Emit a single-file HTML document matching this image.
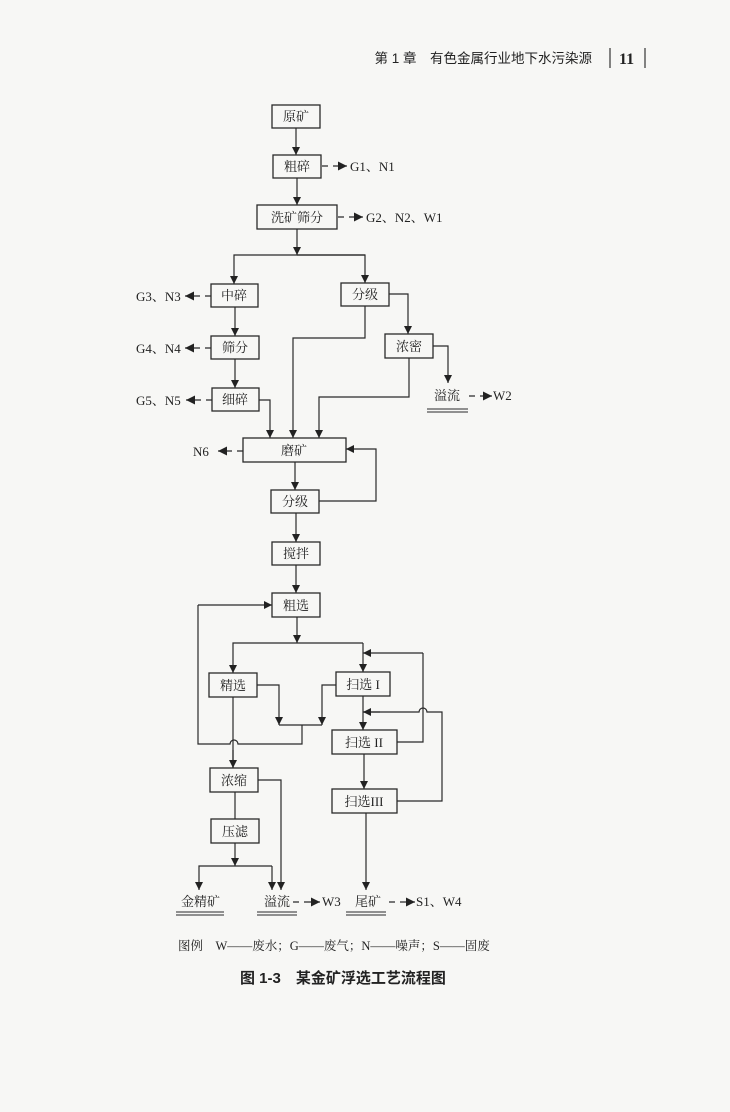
<!DOCTYPE html>
<html><head><meta charset="utf-8"><style>
html,body{margin:0;padding:0;background:#f7f7f5;}
svg{display:block;}
text{font-family:"Liberation Serif","Noto Serif CJK SC",serif;font-size:13px;fill:#222;}
.s{font-family:"Liberation Sans","Noto Sans CJK SC",sans-serif;}
</style></head><body>
<svg width="730" height="1112" viewBox="0 0 730 1112" xmlns="http://www.w3.org/2000/svg">
<defs>
<marker id="a" viewBox="0 0 10 10" refX="10" refY="5" markerWidth="8" markerHeight="8" markerUnits="userSpaceOnUse" orient="auto"><path d="M0,0L10,5L0,10z" fill="#222"/></marker>
<marker id="b" viewBox="0 0 10 10" refX="10" refY="5" markerWidth="12" markerHeight="9" markerUnits="userSpaceOnUse" orient="auto"><path d="M0,0L10,5L0,10z" fill="#222"/></marker>
</defs>
<!-- header -->
<text x="592" y="63" class="s" text-anchor="end" style="font-size:13.5px">第 1 章　有色金属行业地下水污染源</text>
<line x1="610" y1="48" x2="610" y2="68" stroke="#333" stroke-width="1.2"/>
<text x="619" y="64" style="font-size:16px;font-weight:bold">11</text>
<line x1="645" y1="48" x2="645" y2="68" stroke="#333" stroke-width="1.2"/>

<g fill="none" stroke="#2a2a2a" stroke-width="1.3">
<rect x="272" y="105" width="48" height="23"/>
<rect x="273" y="155" width="48" height="23"/>
<rect x="257" y="205" width="80" height="24"/>
<rect x="211" y="284" width="47" height="23"/>
<rect x="341" y="283" width="48" height="23"/>
<rect x="211" y="336" width="48" height="23"/>
<rect x="212" y="388" width="47" height="23"/>
<rect x="385" y="334" width="48" height="24"/>
<rect x="243" y="438" width="103" height="24"/>
<rect x="271" y="490" width="48" height="23"/>
<rect x="272" y="542" width="48" height="23"/>
<rect x="272" y="593" width="48" height="24"/>
<rect x="209" y="673" width="48" height="24"/>
<rect x="336" y="672" width="54" height="24"/>
<rect x="332" y="730" width="65" height="24"/>
<rect x="332" y="789" width="65" height="24"/>
<rect x="210" y="768" width="48" height="24"/>
<rect x="211" y="819" width="48" height="24"/>
</g>

<g fill="none" stroke="#2a2a2a" stroke-width="1.2" marker-end="url(#a)">
<line x1="296" y1="128" x2="296" y2="155"/>
<line x1="297" y1="178" x2="297" y2="205"/>
<line x1="297" y1="229" x2="297" y2="255"/>
<polyline points="365,255 234,255 234,284"/>
<polyline points="297,255 365,255 365,283"/>
<line x1="235" y1="307" x2="235" y2="336"/>
<line x1="235" y1="359" x2="235" y2="388"/>
<polyline points="389,294 408,294 408,334"/>
<polyline points="433,346 448,346 448,383"/>
<polyline points="365,306 365,338 293,338 293,438"/>
<polyline points="409,358 409,397 319,397 319,438"/>
<polyline points="259,400 270,400 270,438"/>
<line x1="295" y1="462" x2="295" y2="490"/>
<polyline points="319,501 376,501 376,449 346,449"/>
<line x1="296" y1="513" x2="296" y2="542"/>
<line x1="296" y1="565" x2="296" y2="593"/>
<polyline points="198,605 272,605"/>
<line x1="297" y1="617" x2="297" y2="643"/>
<polyline points="363,643 233,643 233,673"/>
<line x1="363" y1="643" x2="363" y2="672"/>
<polyline points="257,685 279,685 279,725"/>
<polyline points="336,685 322,685 322,725"/>
<line x1="363" y1="696" x2="363" y2="730"/>
<line x1="364" y1="754" x2="364" y2="789"/>
<polyline points="258,780 281,780 281,890"/>
<line x1="235" y1="843" x2="235" y2="866"/>
<polyline points="272,866 199,866 199,890"/>
<line x1="272" y1="866" x2="272" y2="890"/>
<line x1="366" y1="813" x2="366" y2="890"/>
</g>
<g fill="none" stroke="#2a2a2a" stroke-width="1.2">
<path d="M198,605 L198,744 L230,744 A4,4 0 0 1 238,744 L302,744 L302,725 L279,725 M302,725 L322,725"/>
<line x1="233" y1="697" x2="233" y2="768"/>
<path d="M397,742 L423,742 L423,653"/>
<path d="M397,801 L442,801 L442,712 L427,712 A4,4 0 0 0 419,712 L363,712"/>
<line x1="235" y1="792" x2="235" y2="819"/>
</g>
<g fill="none" stroke="#2a2a2a" stroke-width="1.2" marker-end="url(#a)">
<line x1="423" y1="653" x2="363" y2="653"/>
<line x1="380" y1="712" x2="363" y2="712"/>
<line x1="233" y1="750" x2="233" y2="768"/>
</g>

<g fill="none" stroke="#2a2a2a" stroke-width="1.2">
<path d="M322,166 h6 M333,166 h14" marker-end="url(#b)"/>
<path d="M338,217 h6 M349,217 h14" marker-end="url(#b)"/>
<path d="M211,296 h-6 M200,296 h-15" marker-end="url(#b)"/>
<path d="M211,348 h-6 M200,348 h-15" marker-end="url(#b)"/>
<path d="M212,400 h-6 M201,400 h-15" marker-end="url(#b)"/>
<path d="M243,451 h-6 M232,451 h-14" marker-end="url(#b)"/>
<path d="M469,396 h6 M480,396 h12" marker-end="url(#b)"/>
<path d="M293,902 h6 M304,902 h16" marker-end="url(#b)"/>
<path d="M389,902 h6 M400,902 h15" marker-end="url(#b)"/>
</g>
<g stroke="#2a2a2a" stroke-width="1">
<line x1="427" y1="409" x2="468" y2="409"/><line x1="427" y1="412" x2="468" y2="412"/>
<line x1="176" y1="912" x2="224" y2="912"/><line x1="176" y1="915" x2="224" y2="915"/>
<line x1="257" y1="912" x2="297" y2="912"/><line x1="257" y1="915" x2="297" y2="915"/>
<line x1="346" y1="912" x2="386" y2="912"/><line x1="346" y1="915" x2="386" y2="915"/>
</g>

<g text-anchor="middle">
<text x="296" y="121">原矿</text>
<text x="297" y="171">粗碎</text>
<text x="297" y="222">洗矿筛分</text>
<text x="234" y="300">中碎</text>
<text x="365" y="299">分级</text>
<text x="235" y="352">筛分</text>
<text x="235" y="404">细碎</text>
<text x="409" y="351">浓密</text>
<text x="294" y="455">磨矿</text>
<text x="295" y="506">分级</text>
<text x="296" y="558">搅拌</text>
<text x="296" y="610">粗选</text>
<text x="233" y="690">精选</text>
<text x="363" y="689">扫选 I</text>
<text x="364" y="747">扫选 II</text>
<text x="364" y="806">扫选III</text>
<text x="234" y="785">浓缩</text>
<text x="235" y="836">压滤</text>
</g>
<text x="350" y="171">G1、N1</text>
<text x="366" y="222">G2、N2、W1</text>
<text x="136" y="301">G3、N3</text>
<text x="136" y="353">G4、N4</text>
<text x="136" y="405">G5、N5</text>
<text x="193" y="456">N6</text>
<text x="434" y="400">溢流</text>
<text x="493" y="400">W2</text>
<text x="181" y="906">金精矿</text>
<text x="264" y="906">溢流</text>
<text x="322" y="906">W3</text>
<text x="355" y="906">尾矿</text>
<text x="416" y="906">S1、W4</text>
<text x="178" y="950" style="font-size:12.5px">图例　W——废水；G——废气；N——噪声；S——固废</text>
<text x="240" y="983" class="s" style="font-size:15px;font-weight:bold">图 1-3　某金矿浮选工艺流程图</text>
</svg>
</body></html>
